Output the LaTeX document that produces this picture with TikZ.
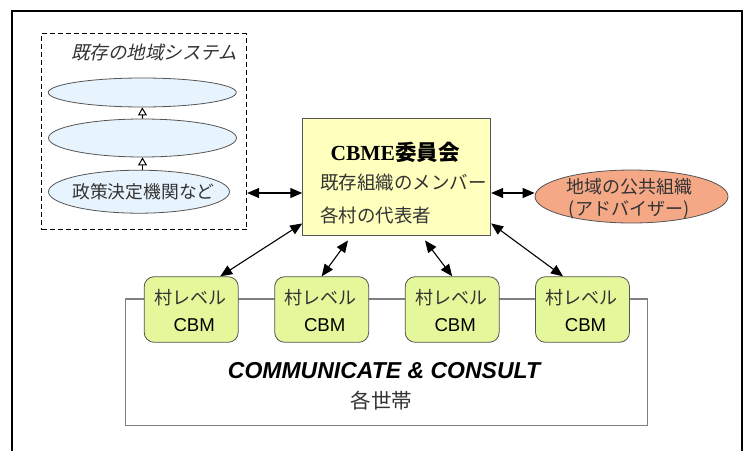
\documentclass[tikz,border=0pt]{standalone}
\usepackage{fontspec}
\setmainfont{Liberation Serif}
\newfontfamily\jp{Noto Sans CJK JP}
\newfontfamily\jpit{Noto Sans CJK JP}[FakeSlant=0.22]
\newfontfamily\arial{Liberation Sans}
\usetikzlibrary{arrows.meta,shapes.geometric}

\definecolor{inkgray}{HTML}{333333}
\definecolor{edgegray}{HTML}{555555}
\definecolor{ovalblue}{HTML}{E8F4FD}
\definecolor{cbmeyellow}{HTML}{FFFFBE}
\definecolor{cbmgreen}{HTML}{E4F79A}
\definecolor{advorange}{HTML}{F4A886}

\tikzset{
  jptext/.style={inner sep=0pt, text=inkgray, font=\jp\fontsize{18}{20}\selectfont},
  oval/.style={ellipse, draw=edgegray, line width=0.8pt, fill=ovalblue, inner sep=0pt},
  cbmbox/.style={draw=edgegray, line width=0.8pt, fill=cbmgreen, rounded corners=10pt,
    minimum width=94pt, minimum height=65.6pt, inner sep=0pt},
  dbl/.style={line width=1.1pt, {Triangle[length=12pt,width=10pt]}-{Triangle[length=12pt,width=10pt]}},
  uparr/.style={line width=1.2pt, -{Triangle[length=8pt,width=9pt,fill=white,line width=1pt]}},
}

\begin{document}
\begin{tikzpicture}[x=1pt,y=-1pt]
\clip (0,0) rectangle (744,450);
\fill[white] (0,0) rectangle (744,450);

% outer frame, open towards the bottom edge
\draw[line width=2pt] (12,451) -- (12,11) -- (742,11) -- (742,451);

% existing local system
\node[draw, dash pattern=on 5pt off 3pt, line width=0.9pt, minimum width=205pt,
      minimum height=195.6pt, inner sep=0pt] (sys) at (144.2,131.7) {};
\node[jptext, font=\jpit\fontsize{18.5}{20}\selectfont] (systitle) at (154,52) {既存の地域システム};
\node[oval, minimum width=188pt, minimum height=29pt] (e1) at (142.3,92.5) {};
\node[oval, minimum width=188pt, minimum height=38pt] (e2) at (142.5,138) {};
\node[oval, minimum width=181pt, minimum height=43pt] (e3) at (139,191.7) {};
\node[jptext, font=\jp\fontsize{17.8}{20}\selectfont] (e3text) at (143.5,191.7) {政策決定機関など};
\draw[uparr] (e3.north -| e2.south) -- (e2.south);
\draw[uparr] (e2.north) -- (e1.south);

% CBME committee
\node[draw=edgegray, line width=0.9pt, fill=cbmeyellow, minimum width=188pt,
      minimum height=117pt, inner sep=0pt] (cbme) at (396.7,176.5) {};
\node[inner sep=0pt, font=\fontsize{21.5}{24}\selectfont] (cbmetitle) at (395,152)
  {\textbf{CBME}{\jp\bfseries 委員会}};
\node[jptext, anchor=west, font=\jp\fontsize{18.5}{20}\selectfont] (members) at (320,183) {既存組織のメンバー};
\node[jptext, anchor=west, font=\jp\fontsize{18.5}{20}\selectfont] (reps) at (320,215) {各村の代表者};

% public advisory body
\node[ellipse, draw=edgegray, line width=0.8pt, fill=advorange, minimum width=193pt,
      minimum height=53pt, inner sep=0pt] (adv) at (631.5,196.5) {};
\node[jptext] (advtop) at (629,187) {地域の公共組織};
\node[jptext] (advbot) at (629,210) {(アドバイザー)};

% households
\node[draw=gray, line width=1.1pt, minimum width=522pt, minimum height=126.7pt,
      inner sep=0pt] (hh) at (386.3,362.3) {};
\node[inner sep=0pt, font=\arial\bfseries\itshape\fontsize{23}{26}\selectfont] (cc) at (384,370.5)
  {COMMUNICATE \& CONSULT};
\node[jptext, font=\jp\fontsize{20.5}{22}\selectfont] (hhtext) at (381.5,401) {各世帯};

% village-level CBM boxes
\foreach \i/\x in {1/191.2, 2/321.7, 3/452.2, 4/582.5}{
  \node[cbmbox] (cbm\i) at (\x,309.5) {};
  \node[jptext] (vl\i) at (\x-1,297.7) {村レベル};
  \node[inner sep=0pt, font=\arial\fontsize{18.6}{20}\selectfont] (cl\i) at (\x+3,325) {CBM};
}

% connectors
\coordinate (midrow) at (0,193);
\draw[dbl] (sys.east |- midrow) -- (cbme.west |- midrow);
\draw[dbl] (cbme.east |- midrow) -- (adv.west |- midrow);
\draw[dbl] ([yshift=12pt]cbme.south west) -- ([xshift=29pt]cbm1.north);
\draw[dbl] ([xshift=-48.7pt,yshift=-5pt]cbme.south) -- (cbm2.north);
\draw[dbl] ([xshift=28.3pt,yshift=-5pt]cbme.south) -- (cbm3.north);
\draw[dbl] ([yshift=12pt]cbme.south east) -- ([xshift=-19.5pt]cbm4.north);
\end{tikzpicture}
\end{document}
